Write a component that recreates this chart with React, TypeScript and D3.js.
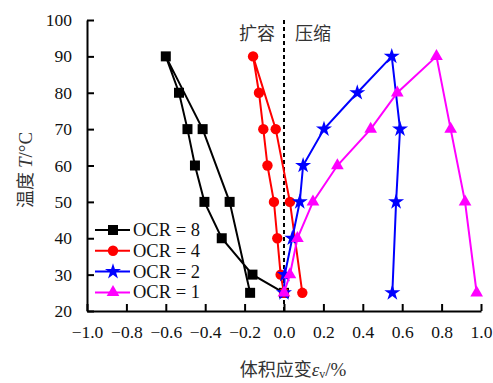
import { useEffect, useRef } from "react";
import * as d3 from "d3";

// heating 25 -> 90 then cooling 90 -> 25
const temps = [25, 30, 40, 50, 60, 70, 80, 90, 70, 50, 25];
const strainOCR8 = [0, -0.16, -0.316, -0.404, -0.452, -0.49, -0.533, -0.6, -0.413, -0.276, -0.172];
const strainOCR4 = [0, -0.017, -0.034, -0.051, -0.084, -0.105, -0.127, -0.157, -0.042, 0.03, 0.093];
const strainOCR2 = [0, 0.004, 0.042, 0.08, 0.097, 0.203, 0.372, 0.547, 0.589, 0.569, 0.55];
const strainOCR1 = [0, 0.03, 0.068, 0.147, 0.271, 0.44, 0.575, 0.774, 0.846, 0.919, 0.978];

const seriesNames = ["OCR = 8", "OCR = 4", "OCR = 2", "OCR = 1"];
const xTicks = [-1.0, -0.8, -0.6, -0.4, -0.2, 0, 0.2, 0.4, 0.6, 0.8, 1.0];
const yTicks = [20, 30, 40, 50, 60, 70, 80, 90, 100];

const W = 493;
const H = 383;
const margin = { left: 87, right: 12, top: 20, bottom: 72 };
const serif = "'Liberation Serif', 'Times New Roman', serif";
const cjk = "'Noto Sans CJK SC', sans-serif";

export default function App() {
  const svgRef = useRef<SVGSVGElement>(null);

  useEffect(() => {
    if (!svgRef.current) return;
    const svg = d3.select(svgRef.current);
    svg.selectAll("*").remove();

    const x = d3.scaleLinear().domain([-1, 1]).range([margin.left, W - margin.right]);
    const y = d3.scaleLinear().domain([20, 100]).range([H - margin.bottom, margin.top]);

    const series = [
      { name: seriesNames[0], values: strainOCR8, color: "#000000", symbol: d3.symbolSquare, size: 100 },
      { name: seriesNames[1], values: strainOCR4, color: "#ff0000", symbol: d3.symbolCircle, size: 85 },
      { name: seriesNames[2], values: strainOCR2, color: "#0000ff", symbol: d3.symbolStar, size: 80 },
      { name: seriesNames[3], values: strainOCR1, color: "#ff00ff", symbol: d3.symbolTriangle, size: 70 },
    ];

    // zero line
    svg
      .append("line")
      .attr("x1", x(0))
      .attr("x2", x(0))
      .attr("y1", y(100))
      .attr("y2", y(20))
      .attr("stroke", "#000")
      .attr("stroke-width", 2)
      .attr("stroke-dasharray", "4,3");

    const line = d3
      .line<[number, number]>()
      .x((d) => x(d[0]))
      .y((d) => y(d[1]));

    series.forEach((s) => {
      const pts: [number, number][] = s.values.map((v, i) => [v, temps[i]]);
      svg
        .append("path")
        .attr("d", line(pts))
        .attr("fill", "none")
        .attr("stroke", s.color)
        .attr("stroke-width", 2);
      const sym = d3.symbol().type(s.symbol).size(s.size);
      svg
        .append("g")
        .selectAll("path")
        .data(pts)
        .join("path")
        .attr("transform", (d) => `translate(${x(d[0])},${y(d[1])})`)
        .attr("d", sym())
        .attr("fill", s.color);
    });

    // axes, ticks pointing inward
    const xAxis = svg
      .append("g")
      .attr("transform", `translate(0,${y(20)})`)
      .call(
        d3
          .axisBottom(x)
          .tickValues(xTicks)
          .tickFormat(d3.format(".1f"))
          .tickSizeInner(-7)
          .tickSizeOuter(0)
          .tickPadding(15)
      );
    const yAxis = svg
      .append("g")
      .attr("transform", `translate(${x(-1)},0)`)
      .call(
        d3
          .axisLeft(y)
          .tickValues(yTicks)
          .tickSizeInner(-7)
          .tickSizeOuter(0)
          .tickPadding(15)
      );
    [xAxis, yAxis].forEach((a) => {
      a.selectAll("path, line").attr("stroke", "#000").attr("stroke-width", 2);
      a.selectAll("text")
        .attr("fill", "#111")
        .attr("font-size", 17.5)
        .attr("font-family", serif);
    });

    // expansion / compression labels
    svg
      .append("text")
      .attr("x", x(0) - 9)
      .attr("y", 40)
      .attr("text-anchor", "end")
      .attr("font-family", cjk)
      .attr("font-size", 18)
      .attr("fill", "#333")
      .text("扩容");
    svg
      .append("text")
      .attr("x", x(0) + 11)
      .attr("y", 40)
      .attr("font-family", cjk)
      .attr("font-size", 18)
      .attr("fill", "#333")
      .text("压缩");

    // axis titles
    const xt = svg
      .append("text")
      .attr("x", 293)
      .attr("y", 376)
      .attr("text-anchor", "middle")
      .attr("font-family", cjk)
      .attr("font-size", 18)
      .attr("fill", "#333");
    xt.append("tspan").text("体积应变");
    xt.append("tspan").attr("font-family", serif).attr("font-style", "italic").attr("font-size", 19).text("ε");
    xt.append("tspan").attr("font-family", serif).attr("font-size", 12).attr("dy", 2).text("v");
    xt.append("tspan").attr("font-family", serif).attr("font-size", 19).attr("dy", -2).text("/%");

    const yt = svg
      .append("text")
      .attr("transform", "translate(32,170) rotate(-90)")
      .attr("text-anchor", "middle")
      .attr("font-family", cjk)
      .attr("font-size", 18)
      .attr("fill", "#333");
    yt.append("tspan").text("温度 ");
    yt.append("tspan").attr("font-family", serif).attr("font-style", "italic").attr("font-size", 19).text("T");
    yt.append("tspan").attr("font-family", serif).attr("font-size", 19).text("/°C");

    // legend
    const lg = svg.append("g").attr("transform", "translate(95,230)");
    series.forEach((s, i) => {
      const row = lg.append("g").attr("transform", `translate(0,${i * 20.8})`);
      row
        .append("line")
        .attr("x1", 0)
        .attr("x2", 35)
        .attr("stroke", s.color)
        .attr("stroke-width", 2);
      row
        .append("path")
        .attr("transform", "translate(18,0)")
        .attr("d", d3.symbol().type(s.symbol).size(s.size)())
        .attr("fill", s.color);
      row
        .append("text")
        .attr("x", 38)
        .attr("y", 6)
        .attr("font-family", serif)
        .attr("font-size", 18.5)
        .attr("fill", "#111")
        .text(s.name);
    });
  }, []);

  return (
    <svg
      ref={svgRef}
      width={W}
      height={H}
      style={{ position: "absolute", left: 0, top: 0, background: "#fff" }}
    />
  );
}
